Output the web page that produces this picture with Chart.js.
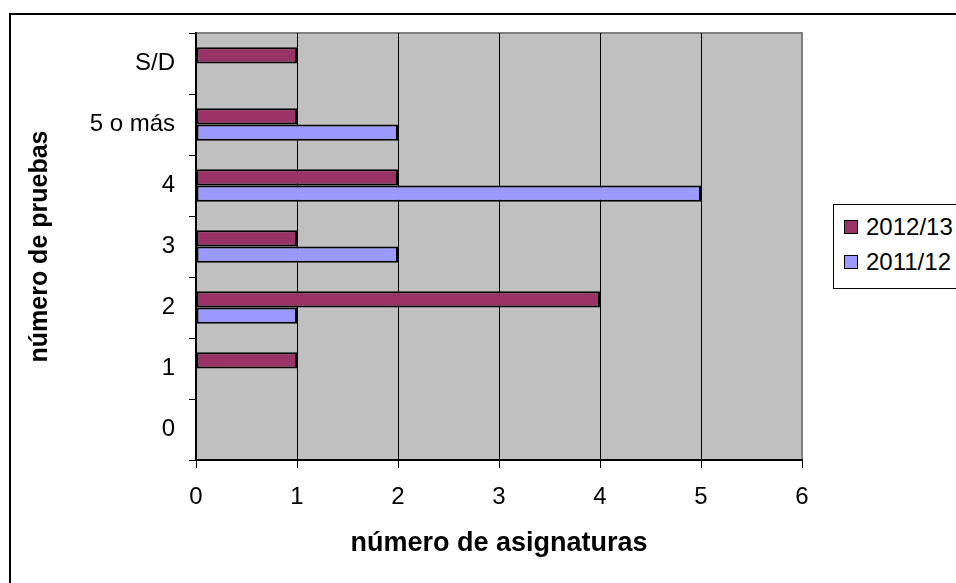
<!DOCTYPE html>
<html>
<head>
<meta charset="utf-8">
<script src="https://cdn.jsdelivr.net/npm/chart.js@4.4.0/dist/chart.umd.min.js"></script>
<style>
  html, body { margin: 0; padding: 0; background: #fff; }
  #wrap { position: relative; width: 956px; height: 583px; overflow: hidden; }
  #marco { position: absolute; left: 9px; top: 13px; width: 1000px; height: 700px;
           border-left: 2px solid #000; border-top: 2px solid #000; }
  #grafico { position: absolute; left: 0; top: 0; }
  #leyenda { position: absolute; left: 833px; top: 204px; width: 160px; height: 83px;
             border: 1px solid #000; background: #fff;
             font-family: "Liberation Sans", Arial, sans-serif; font-size: 24px; }
  .item { position: absolute; left: 10px; height: 26px; line-height: 26px; white-space: nowrap; }
  .cuadro { display: inline-block; width: 12px; height: 12px; border: 1px solid #000;
            margin-right: 8px; vertical-align: 1px; }
</style>
</head>
<body>
<div id="wrap">
  <div id="marco"></div>
  <canvas id="grafico" width="956" height="583"></canvas>
  <div id="leyenda"></div>
</div>
<script>
// categorias (de arriba a abajo)
const categorias = ["S/D", "5 o más", "4", "3", "2", "1", "0"];
const curso1213 = [1, 1, 2, 1, 4, 1, 0];
const curso1112 = [0, 2, 5, 2, 1, 0, 0];
const series = ["2012/13", "2011/12"];
const colores = ["#993366", "#9999FF"];

const familia = "'Liberation Sans', Arial, sans-serif";
const fuente = { family: familia, size: 24 };

// fondo gris del area de trazado
const fondoPlot = {
  id: "fondoPlot",
  beforeDraw(chart) {
    const { ctx, chartArea: a } = chart;
    ctx.save();
    ctx.fillStyle = "#C0C0C0";
    ctx.fillRect(a.left, a.top, a.right - a.left, a.bottom - a.top);
    ctx.strokeStyle = "#808080";
    ctx.lineWidth = 2;
    ctx.beginPath();
    ctx.moveTo(a.left, a.top);
    ctx.lineTo(a.right, a.top);
    ctx.lineTo(a.right, a.bottom);
    ctx.stroke();
    ctx.restore();
  }
};

const data = {
  labels: categorias,
  datasets: [
    { label: series[0], data: curso1213, backgroundColor: colores[0] },
    { label: series[1], data: curso1112, backgroundColor: colores[1] },
  ].map(d => Object.assign(d, {
    borderColor: "#000", borderWidth: 2, borderSkipped: false,
    categoryPercentage: 0.53, barPercentage: 1
  }))
};

const config = {
  type: "bar",
  data: data,
  options: {
    indexAxis: "y",
    responsive: false,
    animation: false,
    layout: { padding: { left: 0, top: 33, right: 154, bottom: 0 } },
    plugins: { legend: { display: false }, tooltip: { enabled: false } },
    scales: {
      x: {
        min: 0, max: 6,
        ticks: { stepSize: 1, color: "#000", font: fuente, padding: 15 },
        grid: {
          color: c => (c.index === 6 ? "#808080" : "#000"),
          lineWidth: 1, tickLength: 8, tickColor: "#000"
        },
        border: { color: "#000", width: 2 },
        title: { display: true, text: "número de asignaturas", color: "#000",
                 font: { family: familia, size: 27, weight: "bold" },
                 padding: { top: 0, bottom: 23 } },
        afterFit: s => { s.height = 123; }
      },
      y: {
        ticks: { color: "#000", font: fuente, padding: 14 },
        grid: { drawOnChartArea: false, tickLength: 7, color: "#000", offset: true },
        border: { color: "#000", width: 1.5 },
        title: { display: true, text: "número de pruebas", color: "#000",
                 font: { family: familia, size: 25, weight: "bold" },
                 padding: { top: 25, bottom: 0 } },
        afterFit: s => { s.width = 196; }
      }
    }
  },
  plugins: [fondoPlot]
};

new Chart(document.querySelector("#grafico"), config);

// leyenda
const leyenda = document.querySelector("#leyenda");
series.forEach((s, i) => {
  const it = document.createElement("div");
  it.className = "item";
  it.style.top = (9 + i * 35) + "px";
  it.innerHTML = '<span class="cuadro" style="background:' + colores[i] + '"></span>' + s;
  leyenda.appendChild(it);
});
</script>
</body>
</html>
